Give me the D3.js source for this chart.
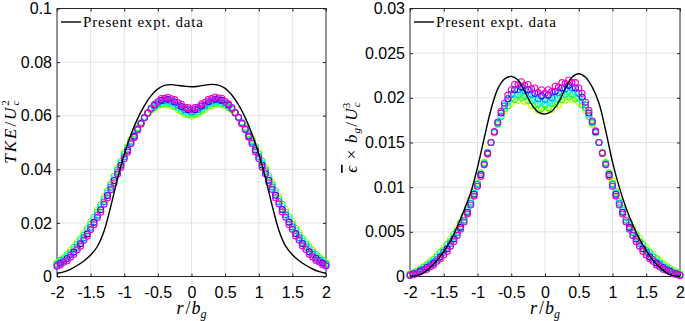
<!DOCTYPE html>
<html>
<head>
<meta charset="utf-8">
<script src="https://cdn.jsdelivr.net/npm/d3@7"></script>
<style>
    body { margin: 0; background: #fff; }
    svg { display: block; }
</style>
</head>
<body>
<div id="chart"></div>
<script>
// r / b_g positions: odd series sit on rA, even series on rB (half a step apart)
const rA = [-2, -1.9, -1.8, -1.7, -1.6, -1.5, -1.4, -1.3, -1.2, -1.1, -1, -0.9, -0.8, -0.7, -0.6, -0.5, -0.4, -0.3, -0.2, -0.1,
    0, 0.1, 0.2, 0.3, 0.4, 0.5, 0.6, 0.7, 0.8, 0.9, 1, 1.1, 1.2, 1.3, 1.4, 1.5, 1.6, 1.7, 1.8, 1.9, 2];
const rB = [-1.95, -1.85, -1.75, -1.65, -1.55, -1.45, -1.35, -1.25, -1.15, -1.05, -0.95, -0.85, -0.75, -0.65, -0.55, -0.45, -0.35, -0.25, -0.15, -0.05,
    0.05, 0.15, 0.25, 0.35, 0.45, 0.55, 0.65, 0.75, 0.85, 0.95, 1.05, 1.15, 1.25, 1.35, 1.45, 1.55, 1.65, 1.75, 1.85, 1.95];

const xTicks = [-2, -1.5, -1, -0.5, 0, 0.5, 1, 1.5, 2];
const tkeTicks = [0, 0.02, 0.04, 0.06, 0.08, 0.1];
const epsTicks = [0, 0.005, 0.01, 0.015, 0.02, 0.025, 0.03];

const seriesColors = ["#bfff00", "#40ff00", "#00ff6a", "#00ffff", "#0095ff", "#2b00ff", "#bf00ff", "#ff00b0"];

// Present expt. data (black line), on rA
const tkeExpt = [.0012, .0017, .0027, .0041, .0058, .0080, .0112, .0170, .0262, .0365, .0455, .0530, .0590, .0638, .0675, .0700, .0713, .0716, .0713, .0710,
    .0708, .0710, .0714, .0717, .0714, .0702, .0677, .0640, .0592, .0532, .0457, .0367, .0264, .0172, .0113, .0081, .0059, .0042, .0028, .0018, .0012];
const epsExpt = [.0000, .0001, .0004, .0010, .0018, .0028, .0040, .0056, .0074, .0094, .0122, .0155, .0187, .0210, .0221, .0224, .0220, .0207, .0193, .0184,
    .0182, .0185, .0195, .0210, .0223, .0227, .0223, .0212, .0194, .0163, .0128, .0100, .0077, .0058, .0042, .0029, .0018, .0010, .0004, .0001, .0000];

// TKE/Uc^2 marker series (yellow-green -> magenta)
const tke1 = [.0052, .0072, .0098, .0128, .0163, .0203, .0248, .0297, .0350, .0405, .0463, .0512, .0557, .0594, .0620, .0636, .0641, .0636, .0622, .0605,
    .0598, .0606, .0623, .0637, .0642, .0637, .0621, .0595, .0558, .0514, .0465, .0407, .0352, .0298, .0249, .0204, .0164, .0129, .0099, .0073, .0053];
const tke2 = [.0060, .0082, .0109, .0141, .0178, .0221, .0268, .0319, .0374, .0430, .0484, .0532, .0575, .0608, .0630, .0643, .0643, .0634, .0618, .0605,
    .0605, .0619, .0635, .0644, .0644, .0631, .0609, .0576, .0533, .0485, .0431, .0375, .0320, .0269, .0222, .0179, .0142, .0110, .0083, .0061];
const tke3 = [.0047, .0066, .0089, .0119, .0154, .0194, .0239, .0288, .0341, .0397, .0455, .0506, .0554, .0594, .0623, .0642, .0649, .0645, .0631, .0613,
    .0606, .0614, .0632, .0646, .0650, .0643, .0624, .0595, .0555, .0507, .0456, .0398, .0342, .0289, .0240, .0195, .0155, .0120, .0090, .0067, .0048];
const tke4 = [.0054, .0074, .0100, .0132, .0169, .0212, .0259, .0310, .0365, .0422, .0477, .0528, .0573, .0609, .0635, .0650, .0652, .0642, .0626, .0614,
    .0614, .0627, .0644, .0653, .0651, .0636, .0610, .0574, .0529, .0478, .0423, .0366, .0311, .0260, .0213, .0170, .0133, .0101, .0075, .0055];
const tke5 = [.0043, .0059, .0081, .0109, .0144, .0184, .0229, .0279, .0333, .0390, .0447, .0501, .0550, .0593, .0626, .0647, .0657, .0654, .0639, .0622,
    .0614, .0623, .0640, .0655, .0658, .0648, .0627, .0594, .0551, .0502, .0448, .0391, .0334, .0280, .0230, .0185, .0145, .0110, .0082, .0060, .0044];
const tke6 = [.0049, .0067, .0091, .0122, .0159, .0202, .0249, .0302, .0358, .0415, .0471, .0523, .0571, .0610, .0639, .0657, .0661, .0651, .0634, .0622,
    .0622, .0636, .0652, .0661, .0657, .0640, .0611, .0572, .0524, .0472, .0416, .0359, .0303, .0250, .0203, .0160, .0123, .0092, .0068, .0050];
const tke7 = [.0038, .0053, .0072, .0100, .0135, .0175, .0220, .0270, .0324, .0382, .0439, .0495, .0547, .0592, .0629, .0653, .0665, .0663, .0648, .0630,
    .0622, .0631, .0649, .0664, .0666, .0654, .0630, .0593, .0548, .0496, .0440, .0383, .0325, .0271, .0221, .0176, .0136, .0101, .0073, .0054, .0039];
const tke8 = [.0043, .0059, .0082, .0113, .0150, .0193, .0240, .0293, .0349, .0407, .0464, .0519, .0569, .0611, .0643, .0664, .0669, .0660, .0643, .0630,
    .0630, .0644, .0661, .0670, .0665, .0644, .0612, .0570, .0520, .0465, .0408, .0350, .0294, .0241, .0194, .0151, .0114, .0083, .0060, .0044];

// eps x bg / Uc^3 marker series (yellow-green -> magenta)
const eps1 = [.0003, .0006, .0011, .0017, .0024, .0032, .0042, .0054, .0068, .0086, .0106, .0128, .0150, .0170, .0185, .0194, .0197, .0196, .0191, .0186,
    .0185, .0187, .0192, .0197, .0198, .0195, .0186, .0170, .0150, .0128, .0107, .0087, .0069, .0055, .0043, .0033, .0025, .0018, .0012, .0007, .0003];
const eps2 = [.0004, .0008, .0013, .0019, .0027, .0036, .0047, .0060, .0076, .0095, .0116, .0139, .0161, .0179, .0191, .0198, .0200, .0197, .0192, .0188,
    .0189, .0193, .0198, .0201, .0199, .0192, .0179, .0161, .0139, .0116, .0095, .0076, .0060, .0047, .0036, .0027, .0020, .0014, .0009, .0005];
const eps3 = [.0002, .0005, .0010, .0015, .0022, .0029, .0039, .0051, .0066, .0084, .0104, .0127, .0150, .0171, .0188, .0199, .0203, .0202, .0197, .0193,
    .0192, .0194, .0199, .0204, .0204, .0200, .0189, .0172, .0150, .0127, .0104, .0084, .0066, .0051, .0039, .0029, .0022, .0015, .0010, .0005, .0002];
const eps4 = [.0003, .0007, .0011, .0017, .0024, .0033, .0044, .0057, .0074, .0093, .0114, .0138, .0161, .0180, .0195, .0204, .0206, .0203, .0198, .0195,
    .0196, .0199, .0205, .0208, .0206, .0197, .0181, .0161, .0138, .0114, .0093, .0074, .0057, .0044, .0033, .0024, .0017, .0011, .0007, .0003];
const eps5 = [.0002, .0004, .0008, .0013, .0019, .0027, .0037, .0049, .0063, .0082, .0103, .0126, .0150, .0172, .0191, .0204, .0209, .0208, .0204, .0199,
    .0198, .0200, .0206, .0210, .0211, .0205, .0192, .0173, .0150, .0126, .0103, .0082, .0063, .0049, .0037, .0027, .0019, .0013, .0008, .0004, .0002];
const eps6 = [.0003, .0006, .0010, .0015, .0022, .0031, .0042, .0055, .0072, .0092, .0114, .0138, .0162, .0183, .0199, .0209, .0212, .0209, .0205, .0202,
    .0203, .0207, .0211, .0214, .0211, .0201, .0183, .0162, .0138, .0114, .0092, .0072, .0055, .0042, .0031, .0022, .0015, .0010, .0006, .0003];
const eps7 = [.0001, .0003, .0007, .0011, .0017, .0024, .0034, .0046, .0061, .0080, .0101, .0125, .0150, .0173, .0194, .0209, .0215, .0214, .0210, .0206,
    .0205, .0207, .0212, .0216, .0217, .0211, .0195, .0174, .0150, .0125, .0101, .0080, .0061, .0046, .0034, .0024, .0017, .0011, .0007, .0003, .0001];
const eps8 = [.0002, .0005, .0008, .0013, .0020, .0028, .0039, .0053, .0070, .0090, .0112, .0137, .0162, .0185, .0203, .0215, .0218, .0215, .0211, .0209,
    .0209, .0213, .0217, .0220, .0217, .0205, .0186, .0163, .0138, .0112, .0090, .0070, .0053, .0039, .0028, .0020, .0013, .0008, .0005, .0002];

const seriesR = [rA, rB, rA, rB, rA, rB, rA, rB];
const tkeSeries = [tke1, tke2, tke3, tke4, tke5, tke6, tke7, tke8];
const epsSeries = [eps1, eps2, eps3, eps4, eps5, eps6, eps7, eps8];

const sansFont = "'Liberation Sans', Arial, Helvetica, sans-serif";
const serifFont = "'Liberation Serif', 'Times New Roman', 'DejaVu Serif', serif";

const svg = d3.select("#chart")
    .append("svg")
    .attr("width", 685)
    .attr("height", 321);

function drawPanel(p) {
    const x = d3.scaleLinear().domain([-2, 2]).range([p.left, p.right]);
    const y = d3.scaleLinear().domain([0, p.yTicks[p.yTicks.length - 1]]).range([p.bottom, p.top]);
    const g = svg.append("g");

    // Grid
    g.append("g").selectAll("line")
        .data(xTicks.slice(1, -1))
        .join("line")
        .attr("x1", d => x(d)).attr("x2", d => x(d))
        .attr("y1", p.top).attr("y2", p.bottom)
        .attr("stroke", "#e4e4e4");
    g.append("g").selectAll("line")
        .data(p.yTicks.slice(1, -1))
        .join("line")
        .attr("x1", p.left).attr("x2", p.right)
        .attr("y1", d => y(d)).attr("y2", d => y(d))
        .attr("stroke", "#e4e4e4");

    // Axes, ticks pointing inward (MATLAB style)
    const fmt = d => String(d);
    const styleAxis = sel => {
        sel.select(".domain").remove();
        sel.selectAll("line").attr("stroke", "#262626");
        sel.selectAll("text").attr("fill", "#000").style("font-family", sansFont).style("font-size", "16px");
    };
    g.append("g")
        .attr("transform", `translate(0,${p.bottom})`)
        .call(d3.axisBottom(x).tickValues(xTicks).tickSizeInner(-3).tickSizeOuter(0).tickPadding(10).tickFormat(fmt))
        .call(styleAxis);
    g.append("g")
        .attr("transform", `translate(0,${p.top})`)
        .call(d3.axisTop(x).tickValues(xTicks).tickSizeInner(-3).tickSizeOuter(0).tickFormat(""))
        .call(styleAxis);
    g.append("g")
        .attr("transform", `translate(${p.left},0)`)
        .call(d3.axisLeft(y).tickValues(p.yTicks).tickSizeInner(-3).tickSizeOuter(0).tickPadding(5).tickFormat(fmt))
        .call(styleAxis);
    g.append("g")
        .attr("transform", `translate(${p.right},0)`)
        .call(d3.axisRight(y).tickValues(p.yTicks).tickSizeInner(-3).tickSizeOuter(0).tickFormat(""))
        .call(styleAxis);

    // Box
    g.append("rect")
        .attr("x", p.left).attr("y", p.top)
        .attr("width", p.right - p.left).attr("height", p.bottom - p.top)
        .attr("fill", "none")
        .attr("stroke", "#262626")
        .attr("stroke-width", 1);

    // Markers
    p.series.forEach((vals, i) => {
        const rs = seriesR[i];
        g.append("g").selectAll("circle")
            .data(vals)
            .join("circle")
            .attr("cx", (d, j) => x(rs[j]))
            .attr("cy", d => y(d))
            .attr("r", 3)
            .attr("fill", "none")
            .attr("stroke", seriesColors[i])
            .attr("stroke-width", 1.1);
    });

    // Present expt. data
    const line = d3.line()
        .x((d, j) => x(rA[j]))
        .y(d => y(d))
        .curve(d3.curveCatmullRom);
    g.append("path")
        .datum(p.expt)
        .attr("fill", "none")
        .attr("stroke", "#000")
        .attr("stroke-width", 1.4)
        .attr("d", line);

    // Legend
    g.append("line")
        .attr("x1", p.left + 4).attr("x2", p.left + 24)
        .attr("y1", 22).attr("y2", 22)
        .attr("stroke", "#000").attr("stroke-width", 1.4);
    g.append("text")
        .attr("x", p.left + 26).attr("y", 27)
        .attr("textLength", 120).attr("lengthAdjust", "spacing")
        .style("font-family", serifFont).style("font-size", "15px")
        .text("Present expt. data");

    // x label  r/b_g
    const xl = g.append("text")
        .attr("x", (p.left + p.right) / 2).attr("y", 314)
        .attr("text-anchor", "middle")
        .style("font-family", serifFont).style("font-size", "18px").style("font-style", "italic");
    xl.append("tspan").text("r");
    xl.append("tspan").attr("dx", 2).style("font-style", "normal").text("/");
    xl.append("tspan").attr("dx", 1).text("b");
    xl.append("tspan").attr("dy", 4).style("font-size", "12px").text("g");

    return g;
}

drawPanel({ left: 57, right: 326, top: 8.5, bottom: 276.5, yTicks: tkeTicks, series: tkeSeries, expt: tkeExpt });
drawPanel({ left: 410, right: 680, top: 8.5, bottom: 276.5, yTicks: epsTicks, series: epsSeries, expt: epsExpt });

// y label left  TKE/U_c^2
const yl1 = svg.append("text")
    .attr("transform", "translate(16,131) rotate(-90)")
    .attr("text-anchor", "middle")
    .style("font-family", serifFont).style("font-size", "17px").style("font-style", "italic")
    .style("letter-spacing", "2px");
yl1.append("tspan").text("TKE");
yl1.append("tspan").style("font-style", "normal").text("/");
yl1.append("tspan").text("U");
yl1.append("tspan").attr("dy", 3).style("font-size", "11px").text("c");
yl1.append("tspan").attr("dx", -7).attr("dy", -10).style("font-size", "11px").style("font-style", "normal").text("2");

// y label right  eps x b_g/U_c^3
const yl2 = svg.append("text")
    .attr("transform", "translate(357,137) rotate(-90)")
    .attr("text-anchor", "middle")
    .style("font-family", serifFont).style("font-size", "17px").style("font-style", "italic")
    .style("letter-spacing", "1.2px");
yl2.append("tspan").style("text-decoration", "overline").text("\u03F5");
yl2.append("tspan").style("font-style", "normal").text(" \u00D7 ");
yl2.append("tspan").text("b");
yl2.append("tspan").attr("dy", 3).style("font-size", "11px").text("g");
yl2.append("tspan").attr("dy", -3).style("font-style", "normal").text("/");
yl2.append("tspan").text("U");
yl2.append("tspan").attr("dy", 3).style("font-size", "11px").text("c");
yl2.append("tspan").attr("dx", -7).attr("dy", -10).style("font-size", "11px").style("font-style", "normal").text("3");
</script>
</body>
</html>
